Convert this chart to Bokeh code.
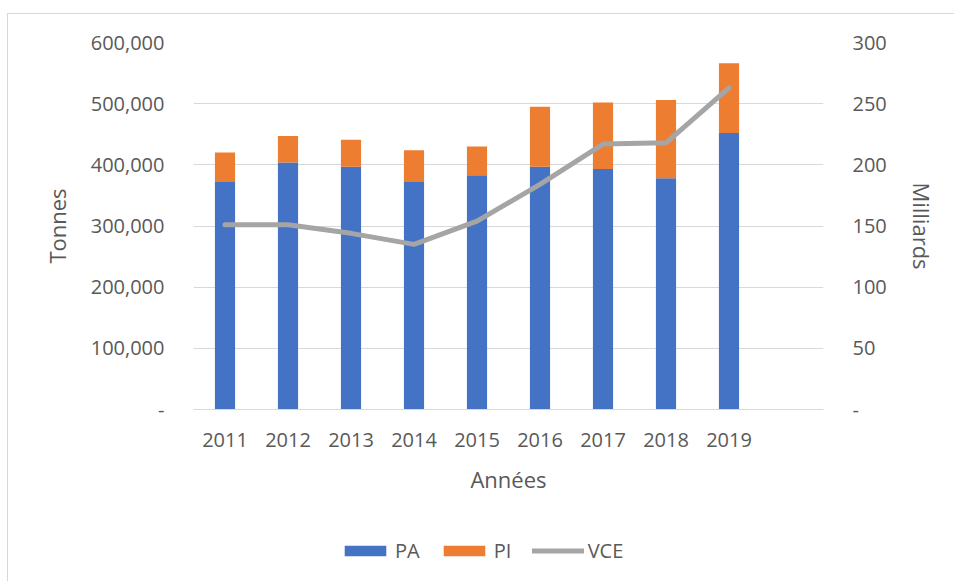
from bokeh.plotting import figure
from bokeh.layouts import column
from bokeh.models import (ColumnDataSource, FactorRange, Range1d, LinearAxis, FixedTicker,
                          NumeralTickFormatter, Legend, LegendItem)
from bokeh.embed import file_html
from bokeh.resources import INLINE

years = ["2011", "2012", "2013", "2014", "2015", "2016", "2017", "2018", "2019"]
pa = [372000, 404000, 397000, 372000, 383000, 397000, 393000, 378000, 452000]
pi = [48000, 43000, 44000, 52000, 47000, 98000, 109000, 128000, 114000]
vce = [151, 151, 144, 135, 154, 184, 217, 218, 263]

left_ticks = [0, 100000, 200000, 300000, 400000, 500000, 600000]
right_ticks = [0, 50, 100, 150, 200, 250, 300]

FONT = "Open Sans"
TXT = "#595959"
GRID = "#D9D9D9"
BLUE = "#4472C4"
ORANGE = "#ED7D31"
GRAY = "#A5A5A5"

cats = years + [" "]
src = ColumnDataSource(dict(year=years, PA=pa, PI=pi, VCE=vce))

p = figure(width=946, height=495, x_range=FactorRange(factors=cats),
           y_range=Range1d(0, 600000), output_backend="svg", toolbar_location=None,
           min_border_left=185, min_border_right=131, min_border_top=28, min_border_bottom=100)
p.outline_line_color = None
p.xgrid.grid_line_color = None
p.ygrid.grid_line_color = GRID
p.ygrid.ticker = FixedTicker(ticks=left_ticks)

p.extra_y_ranges = {"v": Range1d(0, 300)}

bars = p.vbar_stack(["PA", "PI"], x="year", width=0.32, color=[BLUE, ORANGE],
                    line_color=None, source=src)
ln = p.line(x="year", y="VCE", source=src, y_range_name="v", line_color=GRAY,
            line_width=5, line_join="round", line_cap="round")

# x axis
xa = p.xaxis[0]
xa.axis_line_color = GRID
xa.major_tick_line_color = None
xa.minor_tick_line_color = None
xa.major_label_standoff = 10
xa.major_label_text_font = FONT
xa.major_label_text_font_size = "20px"
xa.major_label_text_color = TXT
xa.axis_label = "Années"
xa.axis_label_text_font = FONT
xa.axis_label_text_font_size = "22px"
xa.axis_label_text_font_style = "normal"
xa.axis_label_text_color = TXT
xa.axis_label_standoff = 8

# left axis
ya = p.yaxis[0]
ya.ticker = FixedTicker(ticks=left_ticks)
ya.formatter = NumeralTickFormatter(format="0,0")
ya.major_label_overrides = {0: "-"}
ya.axis_line_color = None
ya.major_tick_line_color = None
ya.minor_tick_line_color = None
ya.major_label_standoff = 23
ya.major_label_text_font = FONT
ya.major_label_text_font_size = "20px"
ya.major_label_text_color = TXT
ya.axis_label = "Tonnes"
ya.axis_label_text_font = FONT
ya.axis_label_text_font_size = "22px"
ya.axis_label_text_font_style = "normal"
ya.axis_label_text_color = TXT
ya.axis_label_standoff = 16

# right axis
ra = LinearAxis(y_range_name="v", ticker=FixedTicker(ticks=right_ticks))
ra.major_label_overrides = {0: "-"}
ra.axis_line_color = None
ra.major_tick_line_color = None
ra.minor_tick_line_color = None
ra.major_label_standoff = 23
ra.major_label_text_font = FONT
ra.major_label_text_font_size = "20px"
ra.major_label_text_color = TXT
ra.axis_label = "Milliards"
ra.axis_label_text_font = FONT
ra.axis_label_text_font_size = "22px"
ra.axis_label_text_font_style = "normal"
ra.axis_label_text_color = TXT
ra.axis_label_standoff = 17
p.add_layout(ra, "right")

# legend strip below the chart (hidden proxy renderers from the same data)
lg = figure(width=946, height=72, x_range=FactorRange(factors=cats), y_range=Range1d(0, 1),
            output_backend="svg", toolbar_location=None, x_axis_type=None, y_axis_type=None,
            min_border=0)
lg.outline_line_color = None
lg.xgrid.grid_line_color = None
lg.ygrid.grid_line_color = None
r_pa = lg.vbar(x="year", top="PA", source=src, width=0.32, color=BLUE, line_color=None, visible=False)
r_pi = lg.vbar(x="year", top="PI", source=src, width=0.32, color=ORANGE, line_color=None, visible=False)
r_vce = lg.line(x="year", y="VCE", source=src, line_color=GRAY, line_width=5, line_cap="round",
                visible=False)

legend = Legend(items=[LegendItem(label="PA", renderers=[r_pa]),
                       LegendItem(label="PI", renderers=[r_pi]),
                       LegendItem(label="VCE", renderers=[r_vce])],
                orientation="horizontal", location=(146, 17))
legend.glyph_width = 52
legend.glyph_height = 13
legend.label_text_font = FONT
legend.label_text_font_size = "20px"
legend.label_text_color = TXT
legend.label_standoff = 4
legend.spacing = 18
legend.padding = 0
legend.margin = 0
legend.border_line_color = None
legend.background_fill_alpha = 0
lg.add_layout(legend, "center")

layout = column(p, lg, spacing=0)
layout.styles = {"border-top": "1px solid #D9D9D9", "border-left": "1px solid #D9D9D9",
                 "margin-left": "7px", "margin-top": "13px"}
open("out.html", "w").write(file_html(layout, INLINE))
